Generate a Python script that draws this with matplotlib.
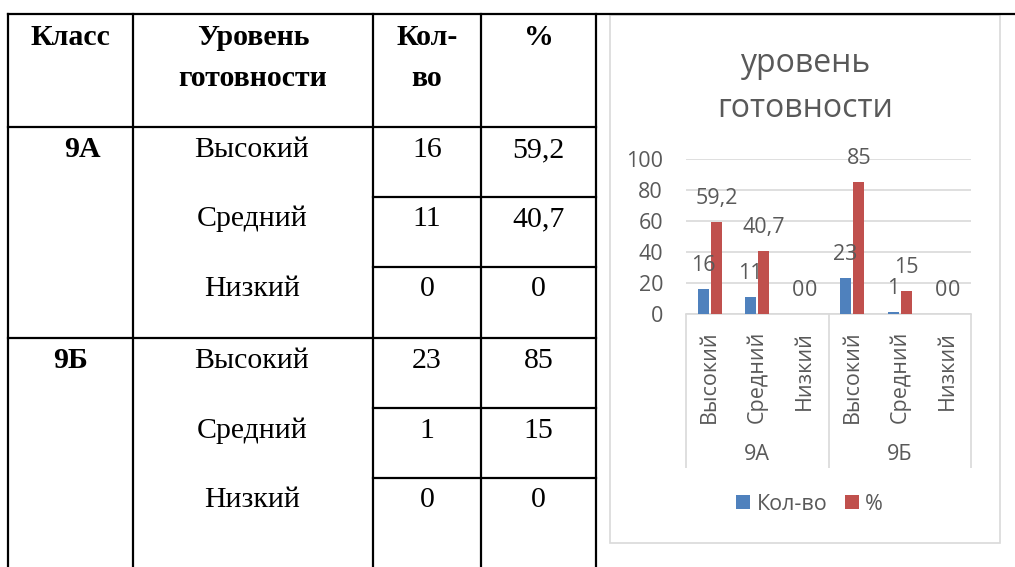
import matplotlib
matplotlib.use("Agg")
import matplotlib.pyplot as plt
import matplotlib.patches as mpatches
import numpy as np

# Data
classes = ['9А', '9Б']
levels = ['Высокий', 'Средний', 'Низкий']
counts = [16, 11, 0, 23, 1, 0]
percents = [59.2, 40.7, 0, 85, 15, 0]
headers = ['Класс', 'Уровень\nготовности', 'Кол-\nво', '%']
chart_title = ['уровень', 'готовности']
series_names = ['Кол-во', '%']


def fmt(v):
    if float(v).is_integer():
        return str(int(v))
    return str(v).replace('.', ',')


W, H = 1015, 567
fig = plt.figure(figsize=(W / 100, H / 100), dpi=100)
fig.patch.set_facecolor('white')

# background axes in pixel coordinates for the table
bg = fig.add_axes([0, 0, 1, 1])
bg.set_xlim(0, W)
bg.set_ylim(H, 0)
bg.axis('off')

lw = 1.6
serif = ['Liberation Serif', 'DejaVu Serif']
cols = [8, 133, 373, 481, 596]

# table grid
bg.plot([8, W], [14, 14], color='black', lw=lw)
for x in cols:
    bg.plot([x, x], [14, H], color='black', lw=lw)
for y in [127, 338]:
    bg.plot([8, 596], [y, y], color='black', lw=lw)
for y in [197, 267, 408, 478]:
    bg.plot([373, 596], [y, y], color='black', lw=lw)

# header text
for i, h in enumerate(headers):
    cx = (cols[i] + cols[i + 1]) / 2
    for j, line in enumerate(h.split('\n')):
        bg.text(cx, 45 + 41 * j, line, ha='center', va='baseline',
                family=serif, fontweight='bold', fontsize=21.5)

# body text
class_x = [82, 71]
for ci, cls in enumerate(classes):
    top = 157 + 211 * ci
    bg.text(class_x[ci], top, cls, ha='center', va='baseline',
            family=serif, fontweight='bold', fontsize=21.5)
    for li, lev in enumerate(levels):
        y = top + 69.5 * li
        k = ci * 3 + li
        bg.text(252, y, lev, ha='center', va='baseline', family=serif, fontsize=21.5)
        bg.text(427, y, fmt(counts[k]), ha='center', va='baseline', family=serif, fontsize=21.5)
        bg.text(538.5, y, fmt(percents[k]), ha='center', va='baseline', family=serif, fontsize=21.5)

# chart frame
bg.add_patch(mpatches.Rectangle((610, 15), 390, 528, fill=False,
                                edgecolor='#D9D9D9', lw=1.2))

sans = ['Open Sans', 'DejaVu Sans']
gray = '#595959'
fs = 15.5
for j, line in enumerate(chart_title):
    bg.text(805, 72 + 45 * j, line, ha='center', va='baseline',
            family=sans, fontsize=23, color=gray)

# chart axes
ax = fig.add_axes([686 / W, (H - 314) / H, 285 / W, 155 / H])
ax.set_facecolor('none')
x = np.arange(len(counts))
bw = 0.23
b1 = ax.bar(x - 0.14, counts, bw, color='#4F81BD', label=series_names[0], zorder=3)
b2 = ax.bar(x + 0.14, percents, bw, color='#C0504D', label=series_names[1], zorder=3)

for xi, v in zip(x - 0.14, counts):
    ax.annotate(fmt(v), xy=(xi, v), xytext=(0, 17), textcoords='offset points',
                ha='center', va='center', fontsize=fs, color=gray, family=sans, zorder=4)
for xi, v in zip(x + 0.14, percents):
    ax.annotate(fmt(v), xy=(xi, v), xytext=(0, 17), textcoords='offset points',
                ha='center', va='center', fontsize=fs, color=gray, family=sans, zorder=4)

ax.set_xlim(-0.5, len(counts) - 0.5)
ax.set_ylim(0, 100)
ax.set_yticks(np.arange(0, 101, 20))
ax.yaxis.grid(True, color='#D9D9D9', lw=1.2, zorder=0)
ax.set_axisbelow(True)
for s in ['left', 'top', 'right']:
    ax.spines[s].set_visible(False)
ax.spines['bottom'].set_color('#D9D9D9')
ax.spines['bottom'].set_linewidth(1.2)

ax.tick_params(axis='y', length=0, pad=16.5, labelsize=fs, labelcolor=gray)
for t in ax.get_yticklabels():
    t.set_family(sans)

ax.set_xticks(x)
ax.set_xticklabels(levels * len(classes), rotation=90, family=sans,
                   fontsize=fs, color=gray, va='top')
ax.tick_params(axis='x', which='major', length=0, pad=12)
ax.set_xticks([-0.5, 2.5, 5.5], minor=True)
ax.tick_params(axis='x', which='minor', length=111, width=1.2, color='#D9D9D9')

for ci, cls in enumerate(classes):
    ax.annotate(cls, xy=(ci * 3 + 1, 0), xycoords=('data', 'axes fraction'),
                xytext=(0, -101), textcoords='offset points', ha='center', va='center',
                fontsize=fs, color=gray, family=sans)

fig.legend(handles=[b1, b2], loc='center', bbox_to_anchor=(809.5 / W, 1 - 504 / H),
           ncol=2, frameon=False, handlelength=0.65, handleheight=0.65,
           handletextpad=0.3, columnspacing=0.8,
           prop={'family': sans, 'size': fs}, labelcolor=gray)

fig.savefig('out.png', dpi=100)
